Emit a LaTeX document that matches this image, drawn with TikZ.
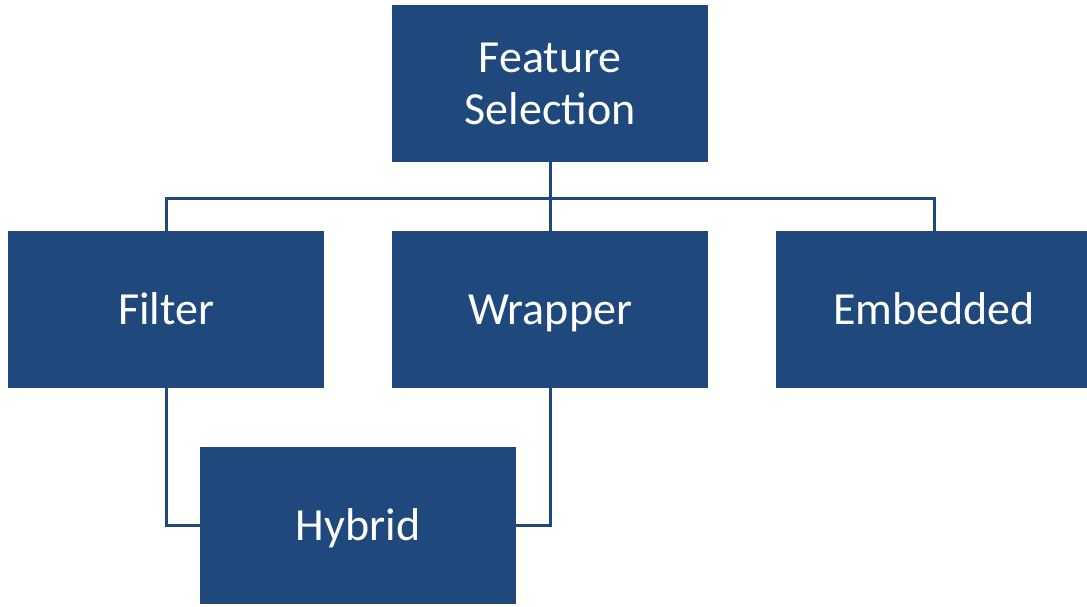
\documentclass[tikz,border=0pt]{standalone}
\usepackage{fontspec}
\setmainfont{Carlito}
\definecolor{boxblue}{RGB}{31,73,125}
\begin{document}
\begin{tikzpicture}[x=1pt,y=-1pt,
  blockbox/.style={fill=boxblue, draw=none, minimum width=316pt, minimum height=157pt,
    inner sep=0pt, text=white, align=center, anchor=north west,
    font=\fontsize{46}{52}\selectfont},
  oneline/.style={blockbox, text height=39pt, text depth=10pt},
  link/.style={draw=boxblue, line width=3pt}]
  \useasboundingbox (0,0) rectangle (1087,606);
  % boxes
  \node[blockbox] (fs) at (392,5) {Feature\\Selection};
  \node[oneline] (filter) at (8,231) {Filter};
  \node[oneline] (wrapper) at (392,231) {Wrapper};
  \node[oneline] (embedded) at (776,231) {Embedded};
  \node[oneline] (hybrid) at (200,447) {Hybrid};
  % tree from the root to the three methods
  \coordinate (bus) at (0,198);
  \draw[link] (fs.south) -- (fs.south |- bus);
  \draw[link] (filter.north) -- (filter.north |- bus) -- (embedded.north |- bus) -- (embedded.north);
  \draw[link] (wrapper.north |- bus) -- (wrapper.north);
  % hybrid combines filter and wrapper
  \draw[link] (filter.south) |- (hybrid.west);
  \draw[link] (wrapper.south) |- (hybrid.east);
\end{tikzpicture}
\end{document}
